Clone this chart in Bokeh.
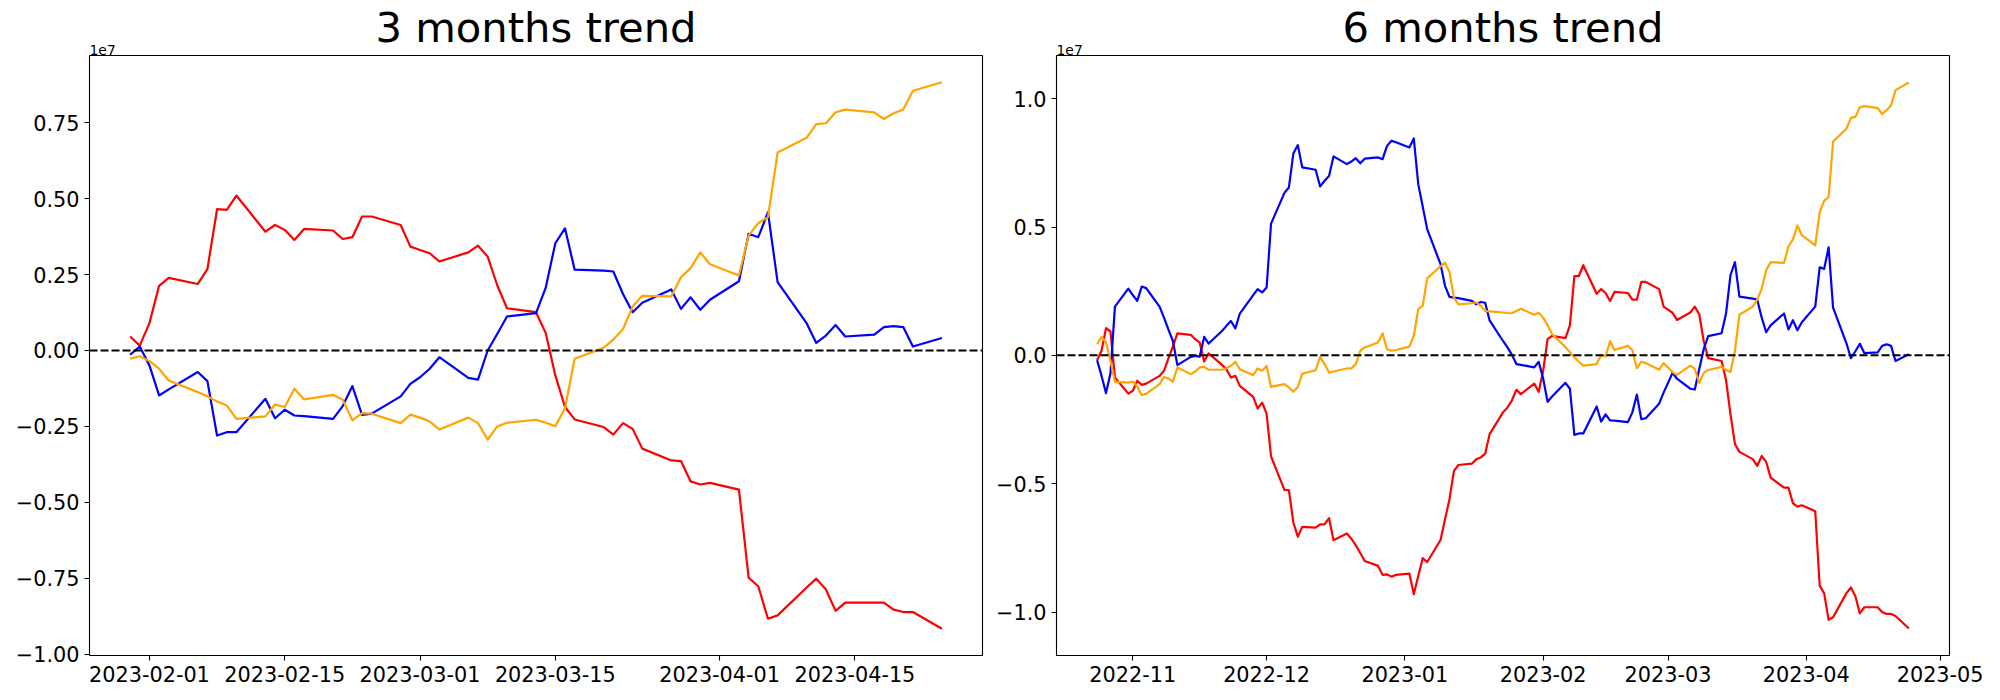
import pandas as pd
from bokeh.plotting import figure
from bokeh.layouts import row
from bokeh.models import (Range1d, FixedTicker, CustomJSTickFormatter, Span, Title,
                          ColumnDataSource)
from bokeh.embed import file_html
from bokeh.resources import INLINE

# ---------------- data (values in units of 1e7) ----------------
left_dates = pd.bdate_range("2023-01-30", "2023-04-24")
left_red = [
    0.046, 0.016, 0.090, 0.213, 0.239,
    0.219, 0.268, 0.465, 0.463, 0.510,
    0.391, 0.413, 0.397, 0.364, 0.400,
    0.395, 0.367, 0.373, 0.441, 0.441,
    0.413, 0.342, 0.331, 0.320, 0.293,
    0.323, 0.345, 0.309, 0.214, 0.139,
    0.126, 0.058, -0.082, -0.186, -0.227,
    -0.252, -0.277, -0.239, -0.258, -0.323,
    -0.362, -0.364, -0.431, -0.441, -0.436,
    -0.458, -0.748, -0.776, -0.883, -0.872,
    -0.780, -0.751, -0.787, -0.857, -0.830,
    -0.830, -0.830, -0.853, -0.861, -0.861,
    -0.916]
left_blue = [
    -0.014, 0.013, -0.049, -0.148, -0.128,
    -0.071, -0.101, -0.280, -0.269, -0.269,
    -0.159, -0.223, -0.195, -0.214, -0.216,
    -0.225, -0.183, -0.117, -0.212, -0.208,
    -0.151, -0.110, -0.088, -0.060, -0.022,
    -0.090, -0.096, 0.000, 0.055, 0.112,
    0.123, 0.206, 0.353, 0.402, 0.266,
    0.263, 0.260, 0.186, 0.126, 0.157,
    0.201, 0.137, 0.175, 0.134, 0.167,
    0.228, 0.384, 0.373, 0.455, 0.225,
    0.090, 0.025, 0.049, 0.084, 0.046,
    0.052, 0.077, 0.080, 0.077, 0.013,
    0.041]
left_orange = [
    -0.027, -0.019, -0.035, -0.060, -0.099,
    -0.137, -0.151, -0.168, -0.181, -0.225,
    -0.217, -0.178, -0.186, -0.126, -0.161,
    -0.146, -0.162, -0.230, -0.206, -0.208,
    -0.239, -0.211, -0.221, -0.234, -0.260,
    -0.221, -0.239, -0.293, -0.250, -0.238,
    -0.228, -0.238, -0.249, -0.190, -0.027,
    0.009, 0.036, 0.070, 0.145, 0.180,
    0.178, 0.241, 0.271, 0.323, 0.284,
    0.247, 0.378, 0.419, 0.439, 0.652,
    0.700, 0.745, 0.748, 0.784, 0.793,
    0.784, 0.762, 0.781, 0.793, 0.855,
    0.883]

right_dates = pd.bdate_range("2022-10-24", "2023-04-24")
right_red = [
    -0.019, 0.018, 0.106, 0.093, -0.086,
    -0.149, -0.138, -0.099, -0.115, -0.110,
    -0.080, -0.060, -0.012, 0.035, 0.086,
    0.080, 0.063, 0.050, -0.024, 0.008,
    -0.037, -0.054, -0.086, -0.080, -0.119,
    -0.162, -0.207, -0.184, -0.227, -0.394,
    -0.524, -0.525, -0.651, -0.706, -0.668,
    -0.671, -0.658, -0.658, -0.634, -0.720,
    -0.694, -0.714, -0.740, -0.770, -0.801,
    -0.820, -0.855, -0.853, -0.862, -0.855,
    -0.850, -0.930, -0.859, -0.790, -0.805,
    -0.719, -0.638, -0.560, -0.450, -0.427,
    -0.422, -0.405, -0.398, -0.383, -0.307,
    -0.222, -0.203, -0.175, -0.134, -0.151,
    -0.110, -0.142, -0.060, 0.063, 0.076,
    0.067, 0.117, 0.309, 0.309, 0.351,
    0.240, 0.258, 0.243, 0.212, 0.247,
    0.243, 0.217, 0.217, 0.286, 0.286,
    0.258, 0.190, 0.178, 0.166, 0.138,
    0.167, 0.190, 0.160, 0.055, -0.011,
    -0.022, -0.096, -0.230, -0.345, -0.376,
    -0.404, -0.430, -0.392, -0.415, -0.476,
    -0.515, -0.515, -0.576, -0.589, -0.584,
    -0.607, -0.897, -0.927, -1.030, -1.020,
    -0.926, -0.904, -0.938, -1.005, -0.981,
    -0.981, -1.000, -1.007, -1.007, -1.015,
    -1.064]
right_blue = [
    -0.019, -0.080, -0.147, -0.070, 0.190,
    0.260, 0.235, 0.212, 0.268, 0.262,
    0.190, 0.147, 0.100, 0.056, -0.038,
    -0.006, -0.002, -0.005, 0.072, 0.046,
    0.095, 0.115, 0.134, 0.105, 0.163,
    0.235, 0.258, 0.245, 0.264, 0.513,
    0.633, 0.654, 0.786, 0.819, 0.732,
    0.723, 0.658, 0.680, 0.699, 0.775,
    0.745, 0.755, 0.768, 0.748, 0.766,
    0.771, 0.764, 0.816, 0.836, 0.830,
    0.810, 0.845, 0.667, 0.580, 0.492,
    0.355, 0.271, 0.228, 0.225, 0.223,
    0.212, 0.199, 0.208, 0.205, 0.136,
    0.056, 0.031, 0.002, -0.034, -0.037,
    -0.047, -0.025, -0.090, -0.181, -0.160,
    -0.107, -0.130, -0.310, -0.304, -0.304,
    -0.199, -0.258, -0.230, -0.253, -0.254,
    -0.260, -0.222, -0.153, -0.248, -0.245,
    -0.188, -0.145, -0.107, -0.068, -0.091,
    -0.130, -0.133, -0.053, 0.024, 0.075,
    0.086, 0.163, 0.313, 0.363, 0.229,
    0.221, 0.217, 0.147, 0.090, 0.117,
    0.163, 0.101, 0.137, 0.098, 0.129,
    0.190, 0.343, 0.337, 0.421, 0.186,
    0.047, -0.011, 0.016, 0.045, 0.009,
    0.012, 0.037, 0.043, 0.037, -0.022,
    0.004]
right_orange = [
    0.044, 0.072, 0.050, -0.021, -0.102,
    -0.106, -0.102, -0.120, -0.155, -0.150,
    -0.112, -0.084, -0.090, -0.102, -0.047,
    -0.073, -0.063, -0.047, -0.045, -0.056,
    -0.056, -0.050, -0.041, -0.025, -0.054,
    -0.077, -0.051, -0.060, -0.041, -0.123,
    -0.112, -0.125, -0.142, -0.123, -0.071,
    -0.058, -0.006, -0.034, -0.067, -0.063,
    -0.051, -0.051, -0.034, 0.018, 0.031,
    0.050, 0.086, 0.024, 0.018, 0.021,
    0.034, 0.076, 0.180, 0.193, 0.300,
    0.347, 0.361, 0.325, 0.225, 0.199,
    0.203, 0.206, 0.193, 0.173, 0.171,
    0.167, 0.165, 0.164, 0.173, 0.182,
    0.158, 0.166, 0.147, 0.117, 0.083,
    0.032, 0.012, -0.007, -0.025, -0.040,
    -0.034, 0.001, -0.004, 0.055, 0.021,
    0.037, 0.021, -0.050, -0.025, -0.030,
    -0.056, -0.030, -0.047, -0.065, -0.076,
    -0.040, -0.053, -0.107, -0.068, -0.057,
    -0.045, -0.057, -0.065, 0.017, 0.158,
    0.190, 0.217, 0.260, 0.332, 0.363,
    0.360, 0.425, 0.452, 0.506, 0.468,
    0.428, 0.558, 0.602, 0.617, 0.833,
    0.883, 0.925, 0.929, 0.966, 0.971,
    0.963, 0.940, 0.955, 0.974, 1.033,
    1.063]

left_title = "3 months trend"
right_title = "6 months trend"
left_xticks = ["2023-02-01", "2023-02-15", "2023-03-01", "2023-03-15", "2023-04-01", "2023-04-15"]
right_xticks = ["2022-11-01", "2022-12-01", "2023-01-01", "2023-02-01", "2023-03-01",
                "2023-04-01", "2023-05-01"]
left_yticks = [-1.0, -0.75, -0.5, -0.25, 0.0, 0.25, 0.5, 0.75]
right_yticks = [-1.0, -0.5, 0.0, 0.5, 1.0]
offset_text = "1e7"

FONT = "DejaVu Sans"
FRAME_W, FRAME_H = 893, 600
TOP, BOTTOM = 55, 40


def ms(d):
    return pd.Timestamp(d).value / 1e6


def panel(dates, red, blue, orange, title, xticks, xlen, yticks, ydec, ylim,
          border_left, border_right):
    t0, t1 = ms(dates[0]), ms(dates[-1])
    pad = 0.05 * (t1 - t0)
    p = figure(width=border_left + FRAME_W + border_right, height=TOP + FRAME_H + BOTTOM,
               x_axis_type="datetime",
               x_range=Range1d(t0 - pad, t1 + pad), y_range=Range1d(*ylim),
               output_backend="svg", toolbar_location=None, tools="",
               min_border_left=border_left, min_border_right=border_right,
               min_border_top=TOP, min_border_bottom=BOTTOM, title=title)
    p.title.align = "center"
    p.title.text_font = FONT
    p.title.text_font_size = "41.7px"
    p.title.text_font_style = "normal"
    p.title.text_color = "black"
    p.title.standoff = -21
    p.title.vertical_align = "bottom"

    # matplotlib-style offset text ("1e7") above the top-left corner
    p.add_layout(Title(text=offset_text, align="left", text_font=FONT,
                       text_font_size="13.9px", text_font_style="normal",
                       text_color="black", standoff=2, vertical_align="bottom"), "above")

    p.background_fill_color = "white"
    p.border_fill_color = "white"
    p.xgrid.grid_line_color = None
    p.ygrid.grid_line_color = None
    p.outline_line_color = "black"
    p.outline_line_width = 1.1
    p.outline_line_alpha = 1.0

    src = ColumnDataSource(dict(date=dates, red=red, blue=blue, orange=orange))
    for col in ("red", "blue", "orange"):
        p.line("date", col, source=src, line_color=col, line_width=2.2, line_join="round")
    p.add_layout(Span(location=0, dimension="width", line_color="black",
                      line_width=2.0, line_dash="8 3"))

    for ax in (p.xaxis[0], p.yaxis[0]):
        ax.axis_line_color = None
        ax.major_tick_line_color = "black"
        ax.major_tick_line_width = 1.1
        ax.major_tick_out = 5
        ax.major_tick_in = 0
        ax.minor_tick_line_color = None
        ax.major_label_standoff = 5
        ax.major_label_text_font = FONT
        ax.major_label_text_font_size = "20.8px"
        ax.major_label_text_color = "black"

    p.xaxis[0].ticker = FixedTicker(ticks=[ms(d) for d in xticks])
    p.xaxis[0].formatter = CustomJSTickFormatter(
        code=f"return new Date(tick).toISOString().slice(0, {xlen});")
    p.yaxis[0].ticker = FixedTicker(ticks=yticks)
    p.yaxis[0].formatter = CustomJSTickFormatter(
        code=f"return (tick < 0 ? '\\u2212' : '') + Math.abs(tick).toFixed({ydec});")
    return p


p1 = panel(left_dates, left_red, left_blue, left_orange, left_title, left_xticks, 10,
           left_yticks, 2, (-1.004, 0.971), 89, 6)
p2 = panel(right_dates, right_red, right_blue, right_orange, right_title, right_xticks, 7,
           right_yticks, 1, (-1.169, 1.168), 68, 40)

layout = row(p1, p2)
open("out.html", "w").write(file_html(layout, INLINE))
